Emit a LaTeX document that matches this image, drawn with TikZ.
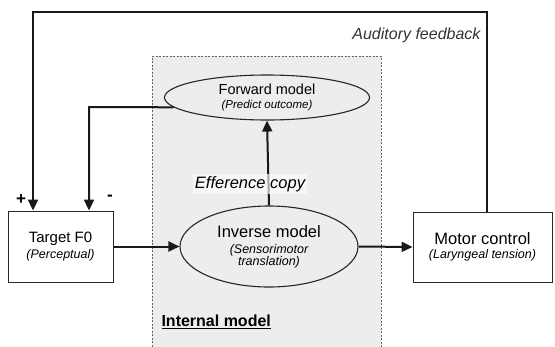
\documentclass[tikz,border=0pt]{standalone}
\usepackage{fontspec}
\setmainfont{Liberation Sans}
\usetikzlibrary{arrows.meta,shapes.geometric}

\tikzset{
  block/.style={draw=black!85, line width=0.9pt, rectangle, align=center, inner sep=0pt},
  model/.style={draw=black!85, line width=1.1pt, ellipse, align=center, inner sep=0pt},
  flow/.style={draw=black!90, line width=2pt, -{Triangle[length=11pt,width=10pt]}},
  region/.style={draw=black!60, line width=0.8pt, dash pattern=on 2pt off 1.5pt}
}

\begin{document}
\begin{tikzpicture}[x=1pt,y=-1pt]
  \useasboundingbox (0,0) rectangle (555,346);
  % internal model area
  \fill [black!7] (152,56) rectangle (381,350);
  \draw [region] (152,350) -- (152,56) -- (381,56) -- (381,350);

  \node [block, minimum width=105pt, minimum height=71pt] (target) at (60.5,246.5)
    {\fontsize{15}{17}\selectfont Target F0\\[2pt]
     \fontsize{12.5}{14}\selectfont\itshape (Perceptual)};
  \node [block, minimum width=139pt, minimum height=70pt] (motor) at (482.5,247)
    {\fontsize{16.5}{18}\selectfont Motor control\\[2pt]
     \fontsize{12.5}{14}\selectfont\itshape (Laryngeal tension)};
  \node [model, minimum width=178pt, minimum height=81pt] (inverse) at (269,246.5)
    {\fontsize{16.5}{18}\selectfont Inverse model\\[4pt]
     \fontsize{12.5}{14}\selectfont\itshape (Sensorimotor\\[0pt]
     \fontsize{12.5}{14}\selectfont\itshape translation)};
  \node [model, minimum width=205pt, minimum height=45pt] (forward) at (267,97.5)
    {\fontsize{14.5}{16}\selectfont Forward model\\[2pt]
     \fontsize{11.5}{13}\selectfont\itshape (Predict outcome)};

  \coordinate (topL) at (33,12);
  \coordinate (topR) at (487,12);
  \coordinate (fbk) at (89,107);

  % connectors
  \draw [flow] (target.east) -- (inverse.west);
  \draw [flow] (inverse.east) -- (motor.west);
  \draw [flow] (inverse.north) -- (forward.south);
  \draw [flow] (motor.north -| topR) -- (topR) -- (topL) -- (topL |- target.north);
  \draw [flow] (forward.186) -- (fbk) -- (fbk |- target.north);

  % labels
  \node [fill=white, fill opacity=0.6, text opacity=1, inner sep=2pt] (effcopy) at (250,184)
    {\fontsize{16.5}{18}\selectfont\itshape Efference copy};
  \node [anchor=east, text=black!80] (audlbl) at (484,35)
    {\fontsize{16}{18}\selectfont\itshape Auditory feedback};
  \node [anchor=west] (intlbl) at (158,322)
    {\fontsize{16}{18}\selectfont\bfseries\underline{Internal model}};
  \node (plus) at (21,200) {\fontsize{17}{18}\selectfont\bfseries +};
  \node (minus) at (110,198) {\fontsize{17}{18}\selectfont\bfseries -};
\end{tikzpicture}
\end{document}
